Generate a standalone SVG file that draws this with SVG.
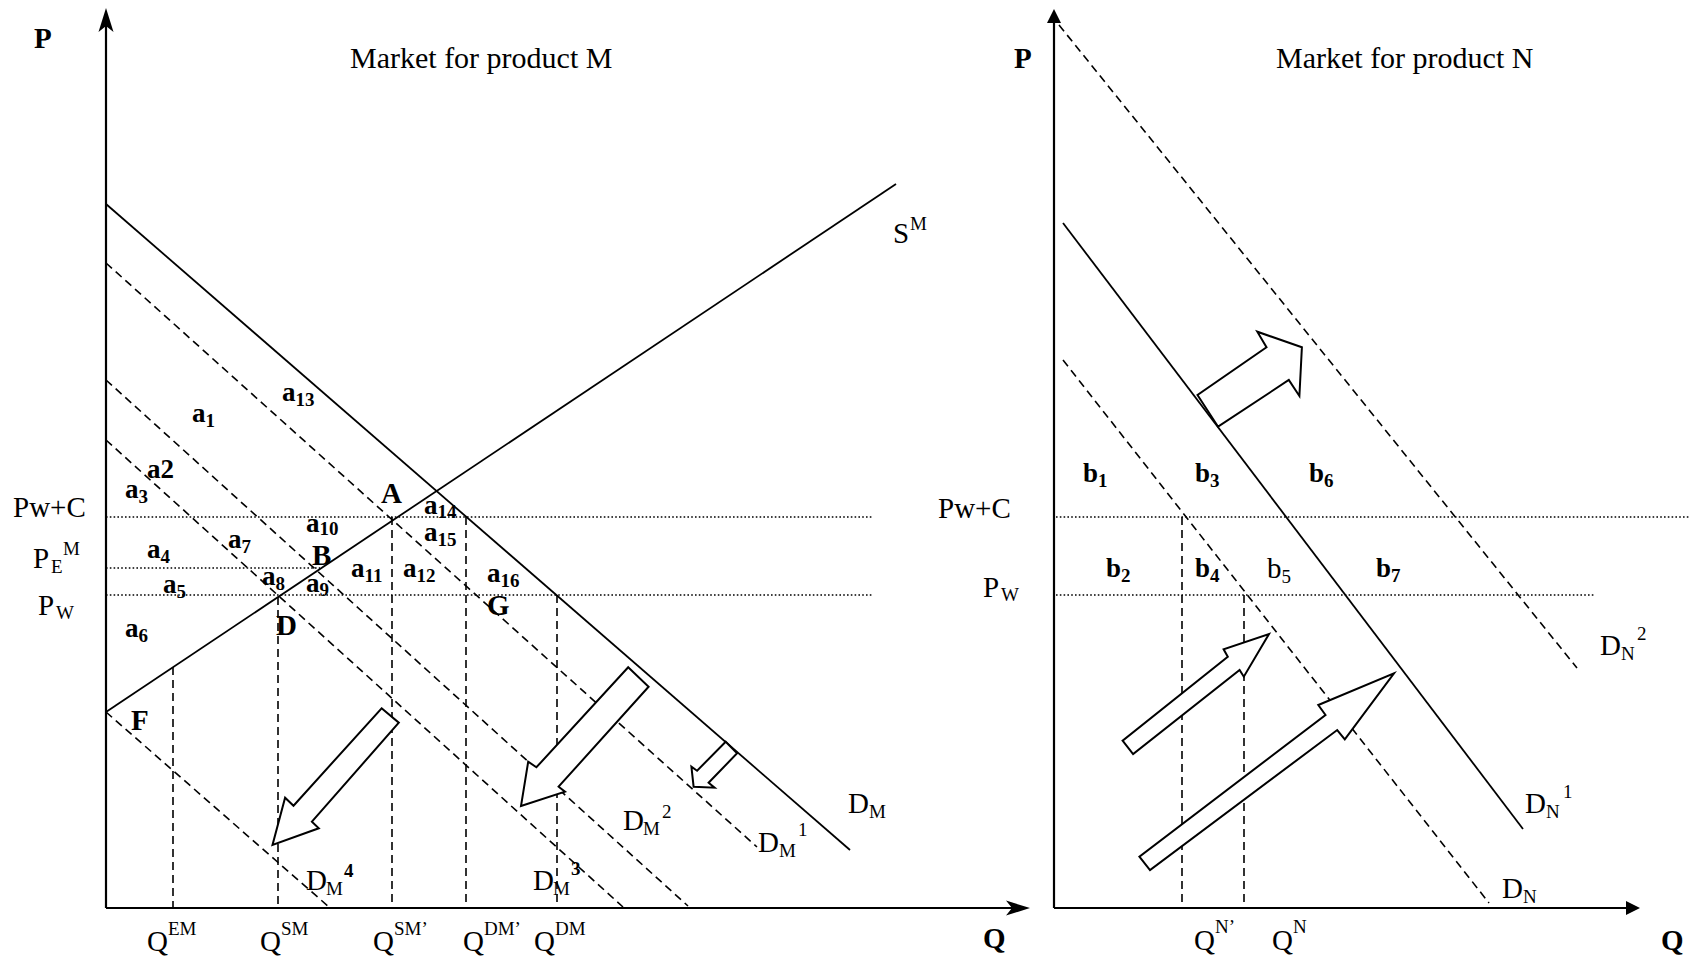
<svg xmlns="http://www.w3.org/2000/svg" width="1690" height="959" viewBox="0 0 1690 959">
<style>
text{font-family:"Liberation Serif","Times New Roman",serif;fill:#000}
.t{font-size:29px}
.h{font-size:30px}
.bd{font-size:27px;font-weight:bold}
.s{font-size:19px}
.sb{font-size:19px;font-weight:bold}
.ax{stroke:#000;stroke-width:2.2;fill:none}
.sol{stroke:#000;stroke-width:1.8;fill:none}
.dsh{stroke:#000;stroke-width:1.6;fill:none;stroke-dasharray:8 5}
.dot{stroke:#000;stroke-width:1.4;fill:none;stroke-dasharray:1.6 2.2}
.blk{fill:#fff;stroke:#000;stroke-width:2;stroke-linejoin:miter}
</style>
<defs>
<marker id="stealth" markerUnits="userSpaceOnUse" viewBox="-7 -8 26 16" markerWidth="26" markerHeight="16" refX="0" refY="0" orient="auto"><path d="M18,0 L-6,-7.5 L0,0 L-6,7.5 Z" fill="#000"/></marker>
<marker id="tri" markerUnits="userSpaceOnUse" viewBox="0 -8 15 16" markerWidth="15" markerHeight="16" refX="0" refY="0" orient="auto"><path d="M14,0 L0,-7 L0,7 Z" fill="#000"/></marker>
</defs>
<rect width="1690" height="959" fill="#fff"/>

<g id="connectors">
<line class="ax" x1="106" y1="908" x2="106" y2="26" marker-end="url(#stealth)"/>
<line class="ax" x1="106" y1="908" x2="1012" y2="908" marker-end="url(#stealth)"/>
<line class="sol" x1="106" y1="204" x2="850" y2="850"/>
<line class="sol" x1="106" y1="712" x2="896" y2="184"/>
<line class="dsh" x1="106" y1="263" x2="757" y2="847"/>
<line class="dsh" x1="106" y1="380" x2="688" y2="906"/>
<line class="dsh" x1="106" y1="440" x2="623" y2="907"/>
<line class="dsh" x1="106" y1="712" x2="329" y2="907"/>
<line class="dot" x1="106" y1="517" x2="872" y2="517"/>
<line class="dot" x1="106" y1="568" x2="320" y2="568"/>
<line class="dot" x1="106" y1="595" x2="872" y2="595"/>
<line class="dsh" x1="173" y1="667" x2="173" y2="908"/>
<line class="dsh" x1="278" y1="597" x2="278" y2="908"/>
<line class="dsh" x1="392" y1="517" x2="392" y2="908"/>
<line class="dsh" x1="466" y1="517" x2="466" y2="908"/>
<line class="dsh" x1="557" y1="595" x2="557" y2="908"/>
<line class="ax" x1="1054" y1="908" x2="1054" y2="23" marker-end="url(#tri)"/>
<line class="ax" x1="1054" y1="908" x2="1626" y2="908" marker-end="url(#tri)"/>
<line class="dsh" x1="1059" y1="25" x2="1577" y2="668"/>
<line class="sol" x1="1063" y1="223" x2="1523" y2="829"/>
<line class="dsh" x1="1063" y1="360" x2="1489" y2="903"/>
<line class="dot" x1="1056" y1="517" x2="1690" y2="517"/>
<line class="dot" x1="1056" y1="595" x2="1594" y2="595"/>
<line class="dsh" x1="1182" y1="517" x2="1182" y2="908"/>
<line class="dsh" x1="1244" y1="595" x2="1244" y2="908"/>
</g>

<g id="shift-arrows">
<polygon class="blk" points="381.6,708.3 398.8,722.7 311.9,821.7 318.8,828.3 272.5,845 285.1,797.7 293.5,805.7"/>
<polygon class="blk" points="628.2,667.3 648.6,686.7 558.6,786.7 565,791.7 521,806 528.2,761.7 536.4,767.3"/>
<polygon class="blk" points="725.7,741.7 737.1,753.3 708.6,782.7 714.6,787.7 693.6,786.7 691.4,766.7 697.1,770.7"/>
<polygon class="blk" points="1197.5,395 1218.1,426.7 1288.8,380 1299.4,396 1301.9,347.3 1257.3,331.7 1266.5,347.3"/>
<polygon class="blk" points="1122.6,740.7 1133.1,754 1239.6,670 1243.8,676.7 1269,634 1223.6,649.3 1227.8,656.7"/>
<polygon class="blk" points="1139.4,856.7 1150,870 1337.2,730 1344.8,739.3 1394,673.3 1318.3,705 1325.5,715"/>
</g>

<g id="market-M-labels">
<text class="t" x="34" y="48" font-weight="bold">P</text>
<text class="h" x="350" y="68">Market for product M</text>
<text class="t" x="893" y="243">S<tspan class="s" x="910" y="230">M</tspan></text>
<text class="t" x="848" y="813">D<tspan class="s" x="869" y="818">M</tspan></text>
<text class="t" x="758" y="852">D<tspan class="s" x="779" y="857">M</tspan><tspan class="s" x="798" y="836">1</tspan></text>
<text class="t" x="623" y="830">D<tspan class="s" x="643" y="835">M</tspan><tspan class="s" x="662" y="818">2</tspan></text>
<text class="t" x="533" y="890">D<tspan class="s" x="553" y="895">M</tspan><tspan class="sb" x="571" y="875">3</tspan></text>
<text class="t" x="306" y="890">D<tspan class="s" x="326" y="895">M</tspan><tspan class="sb" x="344" y="877">4</tspan></text>
<text class="t" x="147" y="951">Q<tspan class="s" x="168" y="935">EM</tspan></text>
<text class="t" x="260" y="951">Q<tspan class="s" x="281" y="935">SM</tspan></text>
<text class="t" x="373" y="951">Q<tspan class="s" x="394" y="935">SM’</tspan></text>
<text class="t" x="463" y="951">Q<tspan class="s" x="484" y="935">DM’</tspan></text>
<text class="t" x="534" y="951">Q<tspan class="s" x="555" y="935">DM</tspan></text>
<text class="t" x="983" y="948" font-weight="bold">Q</text>
<text class="t" x="13" y="517">Pw+C</text>
<text class="t" x="33" y="568">P<tspan class="s" x="51" y="573">E</tspan><tspan class="s" x="63" y="555">M</tspan></text>
<text class="t" x="38" y="615">P<tspan class="s" x="56" y="619">W</tspan></text>
<text class="bd" x="282" y="401">a<tspan class="s" dy="5">13</tspan></text>
<text class="bd" x="192" y="422">a<tspan class="s" dy="5">1</tspan></text>
<text class="bd" x="147" y="478">a2</text>
<text class="bd" x="125" y="498">a<tspan class="s" dy="5">3</tspan></text>
<text class="t" x="381" y="503" font-weight="bold">A</text>
<text class="bd" x="424" y="514">a<tspan class="s" dy="4">14</tspan></text>
<text class="bd" x="306" y="532">a<tspan class="s" dy="3">10</tspan></text>
<text class="bd" x="424" y="541">a<tspan class="s" dy="5">15</tspan></text>
<text class="bd" x="228" y="548">a<tspan class="s" dy="5">7</tspan></text>
<text class="bd" x="147" y="558">a<tspan class="s" dy="5">4</tspan></text>
<text class="t" x="312" y="565" font-weight="bold">B</text>
<text class="bd" x="351" y="577">a<tspan class="s" dy="5">11</tspan></text>
<text class="bd" x="403" y="577">a<tspan class="s" dy="5">12</tspan></text>
<text class="bd" x="487" y="582">a<tspan class="s" dy="5">16</tspan></text>
<text class="bd" x="262" y="585">a<tspan class="s" dy="5">8</tspan></text>
<text class="bd" x="306" y="592">a<tspan class="s" dy="4">9</tspan></text>
<text class="bd" x="163" y="593">a<tspan class="s" dy="5">5</tspan></text>
<text class="t" x="487" y="615" font-weight="bold">G</text>
<text class="t" x="276" y="635" font-weight="bold">D</text>
<text class="bd" x="125" y="637">a<tspan class="s" dy="5">6</tspan></text>
<text class="t" x="131" y="730" font-weight="bold">F</text>
</g>

<g id="market-N-labels">
<text class="t" x="1014" y="68" font-weight="bold">P</text>
<text class="h" x="1276" y="68">Market for product N</text>
<text class="t" x="938" y="518">Pw+C</text>
<text class="t" x="983" y="597">P<tspan class="s" x="1001" y="601">W</tspan></text>
<text class="bd" x="1083" y="482">b<tspan class="s" dy="5">1</tspan></text>
<text class="bd" x="1195" y="482">b<tspan class="s" dy="5">3</tspan></text>
<text class="bd" x="1309" y="482">b<tspan class="s" dy="5">6</tspan></text>
<text class="bd" x="1106" y="577">b<tspan class="s" dy="5">2</tspan></text>
<text class="bd" x="1195" y="577">b<tspan class="s" dy="5">4</tspan></text>
<text class="t" x="1267" y="578" font-size="27">b<tspan class="s" dy="5">5</tspan></text>
<text class="bd" x="1376" y="577">b<tspan class="s" dy="5">7</tspan></text>
<text class="t" x="1600" y="655">D<tspan class="s" x="1621" y="660">N</tspan><tspan class="s" x="1637" y="640">2</tspan></text>
<text class="t" x="1525" y="813">D<tspan class="s" x="1546" y="818">N</tspan><tspan class="s" x="1563" y="798">1</tspan></text>
<text class="t" x="1502" y="898">D<tspan class="s" x="1523" y="903">N</tspan></text>
<text class="t" x="1194" y="950">Q<tspan class="s" x="1215" y="933">N’</tspan></text>
<text class="t" x="1272" y="950">Q<tspan class="s" x="1293" y="933">N</tspan></text>
<text class="t" x="1661" y="950" font-weight="bold">Q</text>
</g>
</svg>
